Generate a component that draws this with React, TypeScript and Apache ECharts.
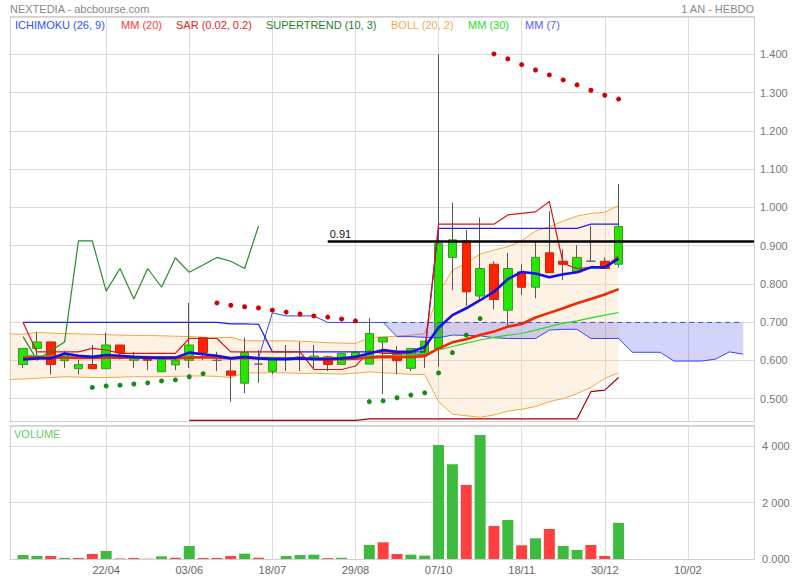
import React, { useEffect, useRef } from 'react';
import * as echarts from 'echarts';

const FONT = 'Arial, "Liberation Sans", sans-serif';

// Weekly categories (first one is a lead-in slot before the first candle)
const CATEGORIES = [
  '04/03', '11/03', '18/03', '25/03', '01/04', '08/04', '15/04', '22/04', '29/04', '06/05',
  '13/05', '20/05', '27/05', '03/06', '10/06', '17/06', '24/06', '01/07', '08/07', '18/07',
  '22/07', '29/07', '05/08', '12/08', '19/08', '29/08', '02/09', '09/09', '16/09', '23/09',
  '30/09', '07/10', '14/10', '21/10', '28/10', '04/11', '11/11', '18/11', '25/11', '02/12',
  '09/12', '16/12', '23/12', '30/12', '06/01', '13/01', '20/01', '27/01', '03/02', '10/02',
  '17/02', '24/02', '03/03', '10/03', '17/03',
];

// Candles (44 weeks, from category 1)
const OPEN = [0.589, 0.631, 0.648, 0.599, 0.578, 0.589, 0.578, 0.640, 0.600, 0.607, 0.570, 0.588, 0.600, 0.659, 0.600, 0.572, 0.540, 0.590, 0.571, 0.603, 0.603, 0.603, 0.609, 0.589, 0.609, 0.590, 0.648, 0.620, 0.579, 0.618, 0.631, 0.869, 0.912, 0.768, 0.851, 0.731, 0.831, 0.791, 0.881, 0.859, 0.831, 0.859, 0.859, 0.851];
const CLOSE = [0.631, 0.648, 0.589, 0.615, 0.589, 0.578, 0.640, 0.620, 0.607, 0.600, 0.605, 0.600, 0.640, 0.620, 0.600, 0.561, 0.620, 0.590, 0.602, 0.607, 0.609, 0.611, 0.589, 0.618, 0.621, 0.670, 0.660, 0.599, 0.631, 0.650, 0.905, 0.915, 0.779, 0.840, 0.759, 0.840, 0.791, 0.869, 0.829, 0.851, 0.869, 0.859, 0.840, 0.950];
const HIGH = [0.632, 0.673, 0.648, 0.625, 0.601, 0.640, 0.672, 0.640, 0.622, 0.607, 0.605, 0.605, 0.750, 0.659, 0.622, 0.600, 0.660, 0.627, 0.605, 0.640, 0.648, 0.640, 0.612, 0.620, 0.621, 0.710, 0.660, 0.637, 0.631, 0.650, 1.400, 1.012, 0.941, 0.973, 0.859, 0.881, 0.851, 0.910, 0.990, 0.890, 0.901, 0.951, 0.869, 1.061];
const LOW = [0.580, 0.600, 0.563, 0.580, 0.563, 0.578, 0.578, 0.602, 0.580, 0.574, 0.570, 0.574, 0.580, 0.600, 0.572, 0.492, 0.514, 0.541, 0.563, 0.572, 0.572, 0.580, 0.572, 0.589, 0.600, 0.590, 0.512, 0.563, 0.572, 0.580, 0.583, 0.784, 0.742, 0.753, 0.733, 0.688, 0.771, 0.762, 0.829, 0.810, 0.831, 0.857, 0.840, 0.843];
const VOLUME = [150, 116, 116, 50, 45, 187, 293, 30, 46, 20, 105, 56, 469, 46, 46, 116, 198, 56, 12, 116, 152, 163, 40, 55, 0, 504, 599, 187, 163, 130, 4031, 3350, 2621, 4384, 1175, 1386, 493, 740, 1069, 469, 328, 504, 116, 1285];

// Bollinger (20, 2), from category 0
const BOLL_UPPER = [0.669, 0.668, 0.673, 0.671, 0.670, 0.669, 0.668, 0.667, 0.666, 0.665, 0.665, 0.664, 0.663, 0.662, 0.660, 0.659, 0.660, 0.651, 0.651, 0.651, 0.651, 0.650, 0.648, 0.646, 0.645, 0.644, 0.659, 0.661, 0.663, 0.666, 0.670, 0.775, 0.836, 0.853, 0.878, 0.888, 0.897, 0.912, 0.938, 0.949, 0.964, 0.977, 0.984, 0.987, 1.005];
const BOLL_LOWER = [0.550, 0.551, 0.553, 0.555, 0.557, 0.556, 0.555, 0.555, 0.556, 0.557, 0.557, 0.557, 0.558, 0.559, 0.559, 0.558, 0.555, 0.567, 0.567, 0.568, 0.567, 0.566, 0.566, 0.565, 0.564, 0.566, 0.570, 0.567, 0.566, 0.563, 0.563, 0.492, 0.459, 0.455, 0.451, 0.457, 0.467, 0.472, 0.479, 0.492, 0.500, 0.513, 0.529, 0.553, 0.567];

// Moving averages, from category 1
const MM7 = [0.602, 0.605, 0.605, 0.618, 0.612, 0.609, 0.614, 0.612, 0.609, 0.607, 0.607, 0.607, 0.620, 0.616, 0.612, 0.605, 0.609, 0.605, 0.603, 0.603, 0.605, 0.603, 0.603, 0.605, 0.609, 0.618, 0.627, 0.622, 0.622, 0.635, 0.685, 0.718, 0.736, 0.757, 0.779, 0.812, 0.831, 0.827, 0.817, 0.825, 0.830, 0.843, 0.843, 0.866];
const MM20 = [0.607, 0.608, 0.607, 0.607, 0.606, 0.606, 0.607, 0.607, 0.607, 0.606, 0.605, 0.605, 0.607, 0.608, 0.607, 0.605, 0.606, 0.605, 0.604, 0.604, 0.604, 0.604, 0.603, 0.603, 0.604, 0.607, 0.609, 0.608, 0.609, 0.611, 0.631, 0.647, 0.655, 0.666, 0.675, 0.688, 0.695, 0.712, 0.724, 0.736, 0.749, 0.760, 0.772, 0.786];
const MM30 = [0.612, 0.612, 0.611, 0.611, 0.611, 0.610, 0.610, 0.610, 0.610, 0.610, 0.609, 0.609, 0.609, 0.609, 0.609, 0.608, 0.608, 0.608, 0.608, 0.607, 0.607, 0.607, 0.607, 0.607, 0.608, 0.610, 0.612, 0.613, 0.615, 0.618, 0.627, 0.636, 0.645, 0.653, 0.660, 0.666, 0.670, 0.679, 0.688, 0.697, 0.703, 0.711, 0.718, 0.725];

// Ichimoku (26, 9)
const TENKAN = [0.699, 0.622, 0.622, 0.622, 0.622, 0.631, 0.627, 0.618, 0.618, 0.618, 0.618, 0.618, 0.657, 0.657, 0.657, 0.622, 0.622, 0.622, 0.622, 0.622, 0.622, 0.576, 0.576, 0.576, 0.585, 0.624, 0.618, 0.618, 0.616, 0.616, 0.956, 0.956, 0.956, 0.956, 0.956, 0.980, 0.984, 0.988, 1.015, 0.853, 0.840, 0.843, 0.843, 0.873];
const KIJUN = [0.699, 0.699, 0.699, 0.699, 0.699, 0.699, 0.699, 0.699, 0.699, 0.699, 0.699, 0.699, 0.699, 0.699, 0.699, 0.695, 0.695, 0.694, 0.622, 0.622, 0.622, 0.622, 0.622, 0.622, 0.622, 0.622, 0.622, 0.622, 0.622, 0.622, 0.945, 0.945, 0.945, 0.945, 0.945, 0.945, 0.945, 0.945, 0.945, 0.945, 0.945, 0.956, 0.956, 0.956];
const SENKOU_LEAD = [0.605, 0.724, 0.716, 0.716, 0.716, 0.699, 0.699, 0.699, 0.699, 0.699]; // from category 18
const KUMO_LOWER = [0.699, 0.662, 0.662, 0.660, 0.659, 0.666, 0.665, 0.664, 0.659, 0.657, 0.657, 0.657, 0.679, 0.681, 0.681, 0.657, 0.657, 0.657, 0.621, 0.621, 0.621, 0.598, 0.598, 0.598, 0.603, 0.622, 0.616]; // from category 27
const KUMO_UPPER = [0.699, 0.699, 0.699, 0.699, 0.699, 0.699, 0.699, 0.699, 0.699, 0.699, 0.699, 0.699, 0.699, 0.699, 0.699, 0.699, 0.699, 0.699, 0.699, 0.699, 0.699, 0.699, 0.699, 0.699, 0.699, 0.699, 0.699];
const LOWER_RED = [0.443, 0.443, 0.443, 0.443, 0.443, 0.443, 0.443, 0.443, 0.443, 0.443, 0.443, 0.443, 0.443, 0.447, 0.447, 0.447, 0.447, 0.447, 0.447, 0.447, 0.447, 0.447, 0.447, 0.447, 0.447, 0.447, 0.447, 0.447, 0.447, 0.518, 0.522, 0.555]; // from category 13

// Supertrend (10, 3)
const ST_LINE = [0.662, 0.601, 0.625, 0.648, 0.912, 0.912, 0.781, 0.840, 0.760, 0.840, 0.791, 0.868, 0.830, 0.849, 0.869, 0.859, 0.840, 0.951]; // from category 1
const ST_DOTS_A = [0.529, 0.533, 0.535, 0.538, 0.541, 0.546, 0.549, 0.557, 0.565]; // from category 6
const ST_DOTS_B = [0.492, 0.494, 0.502, 0.509, 0.515, 0.567, 0.620, 0.666, 0.709]; // from category 26

// SAR (0.02, 0.2)
const SAR_A = [0.750, 0.744, 0.740, 0.737, 0.731, 0.726, 0.721, 0.716, 0.713, 0.708, 0.703]; // from category 15
const SAR_B = [1.401, 1.388, 1.373, 1.359, 1.346, 1.333, 1.320, 1.306, 1.293, 1.283]; // from category 35

const LEVEL = 0.91;
const LEVEL_START = 23;

const LEGEND = [
  { text: 'ICHIMOKU (26, 9)', x: 15, color: '#3050ff' },
  { text: 'MM (20)', x: 121, color: '#ff3a3a' },
  { text: 'SAR (0.02, 0.2)', x: 176, color: '#e02525' },
  { text: 'SUPERTREND (10, 3)', x: 266, color: '#1f7f1f' },
  { text: 'BOLL (20, 2)', x: 391, color: '#ffa64d' },
  { text: 'MM (30)', x: 468, color: '#22e022' },
  { text: 'MM (7)', x: 525, color: '#5a5aff' },
];

const place = (arr: number[], start: number) =>
  CATEGORIES.map((_, i) => (i >= start && i - start < arr.length ? arr[i - start] : '-'));
const pts = (arr: number[], start: number) => arr.map((v, i) => [CATEGORIES[start + i], v]);
const labelInterval = (i: number) => i > 1 && (i - 1) % 6 === 0;
const fmtVol = (v: number) =>
  v === 0 ? '0.000' : v >= 1000 ? `${Math.floor(v / 1000)} ${String(v % 1000).padStart(3, '0')}` : String(v);

export default function App() {
  const ref = useRef<HTMLDivElement>(null);
  useEffect(() => {
    document.body.style.margin = '0';
    const chart = echarts.init(ref.current!, undefined, { renderer: 'svg' });
    const green = '#24e600';
    const red = '#ff2200';
    const candleRaw = OPEN.map((o, i) => [CATEGORIES[i + 1], o, CLOSE[i], LOW[i], HIGH[i]]);
    const bodyData = OPEN.map((o, i) => {
      const c = CLOSE[i];
      const item: any = { value: [CATEGORIES[i + 1], o, c, Math.min(o, c), Math.max(o, c)] };
      if (o === c) item.itemStyle = { borderColor: '#666', borderColor0: '#666' };
      return item;
    });
    const volData = VOLUME.map((v, i) => {
      const up = i === 0 ? true : CLOSE[i] >= CLOSE[i - 1];
      return { value: [CATEGORIES[i + 1], v], itemStyle: { color: up ? '#3dbb3d' : '#ff4040' } };
    });
    const last = CLOSE[CLOSE.length - 1];
    const lastVol = VOLUME[VOLUME.length - 1];
    const lineBase = { type: 'line', symbol: 'none', xAxisIndex: 0, yAxisIndex: 0, silent: true };

    const option: any = {
      animation: false,
      textStyle: { fontFamily: FONT },
      grid: [
        { left: 9.2, right: 42.9, top: 17, height: 404.5 },
        { left: 9.2, right: 42.9, top: 426, height: 133.3 },
      ],
      xAxis: [
        {
          type: 'category', gridIndex: 0, data: CATEGORIES, boundaryGap: false,
          axisLine: { show: false }, axisTick: { show: false }, axisLabel: { show: false },
          splitLine: { show: true, interval: labelInterval, lineStyle: { color: '#dcdcdc' } },
        },
        {
          type: 'category', gridIndex: 1, data: CATEGORIES, boundaryGap: false,
          axisLine: { show: false }, axisTick: { show: false },
          axisLabel: { interval: labelInterval, color: '#666', fontSize: 11, margin: 5, fontFamily: FONT },
          splitLine: { show: true, interval: labelInterval, lineStyle: { color: '#dcdcdc' } },
        },
      ],
      yAxis: [
        {
          type: 'value', gridIndex: 0, position: 'right', min: 0.44, max: 1.4975, splitNumber: 10,
          axisLine: { show: false }, axisTick: { show: false },
          axisLabel: { color: '#777', fontSize: 11, margin: 3, showMinLabel: false, showMaxLabel: false, fontFamily: FONT,
            formatter: (v: number) => v.toFixed(3) },
          splitLine: { lineStyle: { color: '#dcdcdc' } },
        },
        {
          type: 'value', gridIndex: 1, position: 'right', min: 0, max: 4700, interval: 2000,
          axisLine: { show: false }, axisTick: { show: false },
          axisLabel: { color: '#777', fontSize: 11, margin: 5, showMaxLabel: false, fontFamily: FONT, formatter: fmtVol },
          splitLine: { lineStyle: { color: '#dcdcdc' } },
        },
      ],
      series: [
        { ...lineBase, name: 'bollLower', data: place(BOLL_LOWER, 0), stack: 'boll', z: 1,
          lineStyle: { color: '#f7a541', width: 1 } },
        { ...lineBase, name: 'bollBand', data: place(BOLL_UPPER.map((u, i) => u - BOLL_LOWER[i]), 0), stack: 'boll', z: 1,
          lineStyle: { color: '#f7a541', width: 1 }, areaStyle: { color: 'rgba(250,200,150,0.35)' } },
        { type: 'candlestick', name: 'wicks', xAxisIndex: 0, yAxisIndex: 0, data: candleRaw, encode: { x: 0, y: [1, 2, 3, 4] },
          barWidth: 1, z: 2, silent: true,
          itemStyle: { color: '#555', color0: '#555', borderColor: '#555', borderColor0: '#555', borderWidth: 1 } },
        { type: 'candlestick', name: 'bodies', xAxisIndex: 0, yAxisIndex: 0, data: bodyData, encode: { x: 0, y: [1, 2, 3, 4] },
          barWidth: 9, z: 3, silent: true,
          itemStyle: { color: green, color0: red, borderColor: '#3a9a22', borderColor0: '#d82000', borderWidth: 1 },
          markLine: {
            symbol: 'none', silent: true, z: 10,
            data: [
              [
                { coord: [CATEGORIES[LEVEL_START], LEVEL], lineStyle: { color: '#000', width: 2.5, type: 'solid' },
                  label: { show: true, position: 'insideStartTop', formatter: LEVEL.toFixed(2), color: '#111', fontSize: 11, distance: 2, fontFamily: FONT } },
                { coord: [CATEGORIES[CATEGORIES.length - 1], LEVEL] },
              ],
              { yAxis: last, lineStyle: { opacity: 0 },
                label: { show: true, position: 'end', distance: 0, formatter: last.toFixed(3), color: '#fff',
                  backgroundColor: '#3f7cf4', padding: [2, 9, 1, 4], fontSize: 12, fontFamily: FONT } },
            ],
          } },
        { ...lineBase, name: 'kumoLower', data: place(KUMO_LOWER, 27), stack: 'kumo', z: 4,
          lineStyle: { color: '#3848ee', width: 1 } },
        { ...lineBase, name: 'kumoBand', data: place(KUMO_UPPER.map((u, i) => u - KUMO_LOWER[i]), 27), stack: 'kumo', z: 4,
          lineStyle: { color: '#3848ee', width: 1, type: [5, 4] }, areaStyle: { color: 'rgba(95,95,235,0.38)' } },
        { ...lineBase, name: 'senkouLead', data: place(SENKOU_LEAD, 18), z: 4, lineStyle: { color: '#3848ee', width: 1 } },
        { ...lineBase, name: 'kijun', data: place(KIJUN, 1), z: 5, lineStyle: { color: '#1e1ee6', width: 1.2 } },
        { ...lineBase, name: 'tenkan', data: place(TENKAN, 1), z: 5, lineStyle: { color: '#dd1414', width: 1.2 } },
        { ...lineBase, name: 'lowerRed', data: place(LOWER_RED, 13), z: 5, lineStyle: { color: '#a80000', width: 1.2 } },
        { ...lineBase, name: 'supertrend', data: place(ST_LINE, 1), z: 5, lineStyle: { color: '#2a8a2a', width: 1.2 } },
        { ...lineBase, name: 'mm30', data: place(MM30, 1), z: 6, lineStyle: { color: '#22dd22', width: 1.2 } },
        { ...lineBase, name: 'mm20', data: place(MM20, 1), z: 6, lineStyle: { color: '#ee2a00', width: 2.6 } },
        { ...lineBase, name: 'mm7', data: place(MM7, 1), z: 7, lineStyle: { color: '#1010ee', width: 2.6 } },
        { type: 'scatter', name: 'sar', xAxisIndex: 0, yAxisIndex: 0, silent: true, z: 8, symbolSize: 5,
          data: [...pts(SAR_A, 15), ...pts(SAR_B, 35)], itemStyle: { color: '#d40000', opacity: 1 } },
        { type: 'scatter', name: 'stDots', xAxisIndex: 0, yAxisIndex: 0, silent: true, z: 8, symbolSize: 5,
          data: [...pts(ST_DOTS_A, 6), ...pts(ST_DOTS_B, 26)], itemStyle: { color: '#168c16', opacity: 1 } },
        { type: 'bar', name: 'volume', xAxisIndex: 1, yAxisIndex: 1, data: volData, barWidth: 11, silent: true,
          markLine: {
            symbol: 'none', silent: true,
            data: [
              { yAxis: lastVol, lineStyle: { opacity: 0 },
                label: { show: true, position: 'end', distance: 0, formatter: fmtVol(lastVol), color: '#fff',
                  backgroundColor: '#11a811', padding: [3, 11, 2, 3], fontSize: 12, fontFamily: FONT } },
            ],
          } },
      ],
      graphic: [
        { type: 'rect', silent: true, z: 50, shape: { x: 754.8, y: 10, width: 2.6, height: 560 }, style: { fill: '#fff' } },
        { type: 'rect', silent: true, z: 51, shape: { x: 10.5, y: 16.5, width: 744, height: 405 }, style: { fill: 'none', stroke: '#d0d0d0', lineWidth: 1 } },
        { type: 'rect', silent: true, z: 51, shape: { x: 10.5, y: 425.5, width: 744, height: 134 }, style: { fill: 'none', stroke: '#d0d0d0', lineWidth: 1 } },
        { type: 'text', silent: true, z: 52, x: 10, y: 3, style: { text: 'NEXTEDIA - abcbourse.com', fill: '#888', font: `11px ${FONT}` } },
        { type: 'text', silent: true, z: 52, x: 754, y: 3, style: { text: '1 AN - HEBDO', fill: '#888', font: `11px ${FONT}`, textAlign: 'right', align: 'right' } },
        ...LEGEND.map((l) => ({ type: 'text', silent: true, z: 52, x: l.x, y: 19, style: { text: l.text, fill: l.color, font: `11px ${FONT}` } })),
        { type: 'text', silent: true, z: 52, x: 14, y: 428, style: { text: 'VOLUME', fill: '#66cc66', font: `11px ${FONT}` } },
      ],
    };
    chart.setOption(option);
    return () => chart.dispose();
  }, []);
  return <div ref={ref} style={{ position: 'fixed', left: 0, top: 0, width: 800, height: 580, background: '#fff' }} />;
}
